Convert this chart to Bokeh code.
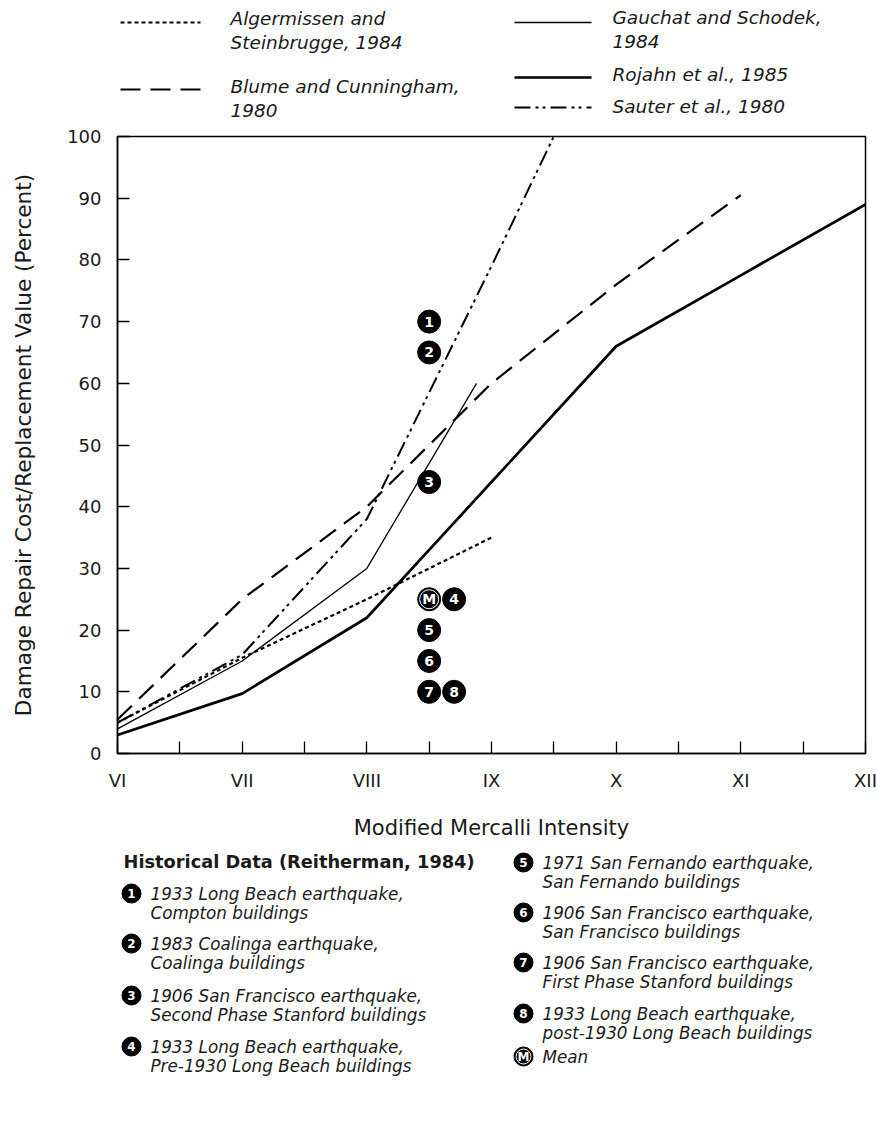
from bokeh.plotting import figure
from bokeh.models import Range1d, FixedTicker, ColumnDataSource
from bokeh.layouts import column
from bokeh.embed import file_html
from bokeh.resources import INLINE
from bokeh.core.properties import value

# ---------------- data ----------------
intensity = [6, 7, 8, 9, 10, 11, 12]
intensity_labels = ["VI", "VII", "VIII", "IX", "X", "XI", "XII"]
y_ticks = [0, 10, 20, 30, 40, 50, 60, 70, 80, 90, 100]

alg_x = [6, 7, 8, 9]
alg_y = [5, 15.5, 25, 35]

blume_x = [6, 7, 8, 9, 10, 11]
blume_y = [5.5, 25, 40, 60, 76, 90.5]

gauchat_x = [6, 7, 8, 8.88]
gauchat_y = [4, 15, 30, 60]

rojahn_x = [6, 7, 8, 9, 10, 11, 12]
rojahn_y = [3, 9.7, 22, 44, 66, 77.5, 89]

sauter_x = [6, 7, 8, 9, 9.5]
sauter_y = [5, 16, 38, 79, 100]

hist_labels = ["1", "2", "3", "M", "4", "5", "6", "7", "8"]
hist_x = [8.5, 8.5, 8.5, 8.5, 8.7, 8.5, 8.5, 8.5, 8.7]
hist_y = [70, 65, 44, 25, 25, 20, 15, 10, 10]

series_names = {
    "alg": ["Algermissen and", "Steinbrugge, 1984"],
    "blume": ["Blume and Cunningham,", "1980"],
    "gauchat": ["Gauchat and Schodek,", "1984"],
    "rojahn": ["Rojahn et al., 1985"],
    "sauter": ["Sauter et al., 1980"],
}

hist_title = "Historical Data (Reitherman, 1984)"
hist_desc = {
    "1": ["1933 Long Beach earthquake,", "Compton buildings"],
    "2": ["1983 Coalinga earthquake,", "Coalinga buildings"],
    "3": ["1906 San Francisco earthquake,", "Second Phase Stanford buildings"],
    "4": ["1933 Long Beach earthquake,", "Pre-1930 Long Beach buildings"],
    "5": ["1971 San Fernando earthquake,", "San Fernando buildings"],
    "6": ["1906 San Francisco earthquake,", "San Francisco buildings"],
    "7": ["1906 San Francisco earthquake,", "First Phase Stanford buildings"],
    "8": ["1933 Long Beach earthquake,", "post-1930 Long Beach buildings"],
    "M": ["Mean"],
}

# ---------------- styles ----------------
FONT = "DejaVu Sans"
TXT = "#1a1a1a"
styles = {
    "alg": dict(line_dash="4 3", line_width=2.2),
    "blume": dict(line_dash="20 10", line_width=2.2),
    "gauchat": dict(line_dash="solid", line_width=1.3),
    "rojahn": dict(line_dash="solid", line_width=2.7),
    "sauter": dict(line_dash="16 5 3 4 3 5", line_width=2.0),
}
series_data = {
    "alg": (alg_x, alg_y),
    "blume": (blume_x, blume_y),
    "gauchat": (gauchat_x, gauchat_y),
    "rojahn": (rojahn_x, rojahn_y),
    "sauter": (sauter_x, sauter_y),
}

W = 877
LEFT = 117
RIGHT = 12
TOP_H = 124
MAIN_H = 726
BOT_H = 1124 - TOP_H - MAIN_H


def blank_fig(h, y_top):
    f = figure(width=W, height=h, x_range=Range1d(LEFT, W - RIGHT),
               y_range=Range1d(y_top + h, y_top),
               output_backend="svg", toolbar_location=None,
               x_axis_location=None, y_axis_location=None,
               min_border_left=LEFT, min_border_right=RIGHT,
               min_border_top=0, min_border_bottom=0)
    f.outline_line_color = None
    f.grid.visible = False
    f.background_fill_color = "white"
    f.border_fill_color = "white"
    return f


# ---------------- top legend ----------------
top = blank_fig(TOP_H, 0)
legend_layout = {
    # key: (line x0, line x1, line y, text x, text y first line)
    "alg": (120, 200, 22, 230, 18),
    "blume": (120, 200, 89, 230, 86),
    "gauchat": (514, 591, 22, 612, 17),
    "rojahn": (514, 591, 77, 612, 74),
    "sauter": (514, 591, 107, 612, 106),
}
for key, (x0, x1, ly, tx, ty) in legend_layout.items():
    top.line([x0, x1], [ly, ly], line_color="black", **styles[key])
    lines = series_names[key]
    top.text(x=[tx] * len(lines), y=[ty + 24 * i for i in range(len(lines))], text=lines,
             text_font=value(FONT), text_font_style="italic", text_font_size="18.5px",
             text_baseline="middle", text_align="left", text_color=TXT)

# ---------------- main plot ----------------
p = figure(width=W, height=MAIN_H, x_range=Range1d(6, 12), y_range=Range1d(0, 100),
           output_backend="svg", toolbar_location=None,
           min_border_left=LEFT, min_border_right=RIGHT, min_border_top=12, min_border_bottom=97)
p.background_fill_color = "white"
p.border_fill_color = "white"
p.grid.visible = False
p.outline_line_color = "black"
p.outline_line_width = 1.5
p.outline_line_alpha = 1.0

for key, (xs, ys) in series_data.items():
    p.line(xs, ys, line_color="black", line_join="round", **styles[key])

src = ColumnDataSource(dict(x=hist_x, y=hist_y, label=hist_labels))
p.scatter("x", "y", source=src, marker="circle", size=23, fill_color="black", line_color="black")
mean_src = ColumnDataSource(dict(x=[x for x, l in zip(hist_x, hist_labels) if l == "M"],
                                 y=[y for y, l in zip(hist_y, hist_labels) if l == "M"]))
p.scatter("x", "y", source=mean_src, marker="circle", size=19, fill_color=None,
          line_color="white", line_width=1)
p.text("x", "y", text="label", source=src, text_font=value(FONT), text_font_style="bold",
       text_font_size="14px", text_color="white", text_align="center", text_baseline="middle")

xa = p.xaxis[0]
xa.ticker = FixedTicker(ticks=intensity, minor_ticks=[v + 0.5 for v in intensity[:-1]])
xa.major_label_overrides = {v: lab for v, lab in zip(intensity, intensity_labels)}
xa.major_tick_in = 12
xa.major_tick_out = 0
xa.minor_tick_in = 12
xa.minor_tick_out = 0
xa.axis_label = "Modified Mercalli Intensity"
xa.major_label_standoff = 16
xa.axis_label_standoff = 22

ya = p.yaxis[0]
ya.ticker = FixedTicker(ticks=y_ticks)
ya.major_tick_in = 12
ya.major_tick_out = 0
ya.minor_tick_in = 0
ya.minor_tick_out = 0
ya.axis_label = "Damage Repair Cost/Replacement Value (Percent)"
ya.major_label_standoff = 16
ya.axis_label_standoff = 28

for ax in (xa, ya):
    ax.axis_line_color = "black"
    ax.axis_line_width = 1.5
    ax.major_tick_line_color = "black"
    ax.major_tick_line_width = 1.3
    ax.minor_tick_line_color = "black"
    ax.minor_tick_line_width = 1.3
    ax.major_label_text_font = FONT
    ax.major_label_text_font_size = "18px"
    ax.major_label_text_color = TXT
    ax.axis_label_text_font = FONT
    ax.axis_label_text_font_style = "normal"
    ax.axis_label_text_color = TXT
xa.axis_label_text_font_size = "21px"
ya.axis_label_text_font_size = "21.6px"

# ---------------- bottom legend ----------------
bot = blank_fig(BOT_H, TOP_H + MAIN_H)
bot.text(x=[123], y=[861], text=[hist_title], text_font=value(FONT), text_font_style="bold",
         text_font_size="17.8px", text_baseline="middle", text_align="left", text_color=TXT)

hist_legend_pos = {
    "1": (131, 893), "2": (131, 943), "3": (131, 995), "4": (131, 1046),
    "5": (523, 862), "6": (523, 912), "7": (523, 962), "8": (523, 1013), "M": (523, 1056),
}
keys = list(hist_legend_pos.keys())
bsrc = ColumnDataSource(dict(x=[hist_legend_pos[k][0] for k in keys],
                             y=[hist_legend_pos[k][1] for k in keys], label=keys))
bot.scatter("x", "y", source=bsrc, marker="circle", size=19, fill_color="black", line_color="black")
bot.scatter(x=[hist_legend_pos["M"][0]], y=[hist_legend_pos["M"][1]], marker="circle", size=15,
            fill_color=None, line_color="white", line_width=1)
bot.text("x", "y", text="label", source=bsrc, text_font=value(FONT), text_font_style="bold",
         text_font_size="12px", text_color="white", text_align="center", text_baseline="middle")
for k in keys:
    cx, cy = hist_legend_pos[k]
    lines = hist_desc[k]
    bot.text(x=[cx + 19] * len(lines), y=[cy + 19.5 * i for i in range(len(lines))], text=lines,
             text_font=value(FONT), text_font_style="italic", text_font_size="16.8px",
             text_baseline="middle", text_align="left", text_color=TXT)

layout = column(top, p, bot, spacing=0)
open("out.html", "w").write(file_html(layout, INLINE))
